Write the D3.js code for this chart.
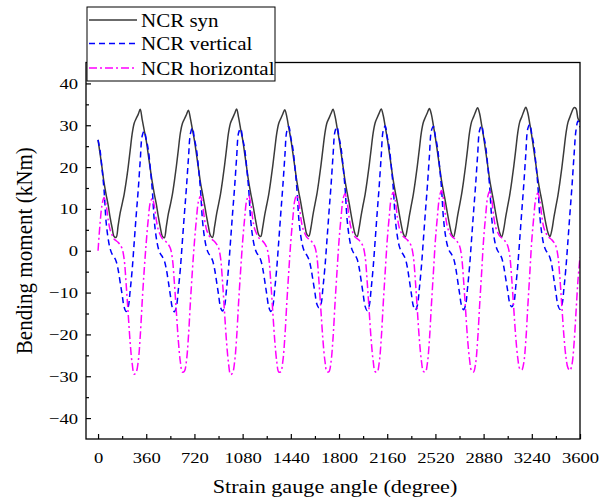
<!DOCTYPE html>
<html lang="en">
<head>
<meta charset="UTF-8">
<title>Bending moment vs strain gauge angle</title>
<script src="https://d3js.org/d3.v7.min.js"></script>
<style>
  body { margin: 0; background: #fff; }
  svg text { font-family: "Liberation Serif", "Times New Roman", serif; fill: #000; }
</style>
</head>
<body>
<svg id="chart" width="612" height="502"></svg>
<script>
// sampling step of the curves (degrees)
var step = 15;

// NCR syn, one row per revolution (0..345 deg), plus closing value at 3600
var synVals = [
  26.5, 23.2, 19.8, 16.2, 13.5, 11, 8, 5.5, 3.4, 3.2, 6, 9, 11.2, 13.5, 16.5, 20, 24, 28, 30.5, 31.6, 32.6, 33.8, 31.3, 28.8,
  26.3, 23, 19.6, 16.4, 13.6, 11.2, 8.2, 5.6, 3.5, 3.1, 5.8, 8.8, 11, 13.4, 16.6, 20.2, 24.2, 28.2, 30.4, 31.5, 32.5, 33.6, 31.6, 29,
  26.4, 23.1, 19.7, 16.3, 13.7, 11.1, 8.3, 5.7, 3.6, 3.2, 5.7, 8.7, 11.1, 13.6, 16.8, 20.4, 24.4, 28.3, 30.6, 31.7, 32.8, 33.9, 31.8, 29.1,
  26.6, 23.3, 19.9, 16.5, 13.8, 11.3, 8.5, 5.9, 3.8, 3.4, 5.6, 8.6, 11, 13.5, 16.7, 20.3, 24.3, 28.1, 30.5, 31.6, 32.7, 33.7, 32, 29.3,
  26.7, 23.4, 20, 16.6, 13.9, 11.4, 8.6, 6, 3.9, 3.5, 5.5, 8.5, 11.1, 13.6, 16.8, 20.4, 24.4, 28.2, 30.6, 31.7, 32.8, 33.8, 32.2, 29.5,
  26.8, 23.5, 20.1, 16.7, 14, 11.5, 8.7, 6.1, 4, 3.4, 5.4, 8.4, 11, 13.5, 16.7, 20.3, 24.3, 28.2, 30.6, 31.8, 32.9, 33.9, 32.4, 29.7,
  26.9, 23.6, 20.2, 16.8, 14.1, 11.6, 8.8, 6.2, 4.1, 3.3, 5.3, 8.3, 10.9, 13.5, 16.7, 20.3, 24.3, 28.3, 30.7, 31.9, 33, 34, 32.6, 29.9,
  27, 23.7, 20.3, 16.9, 14.2, 11.7, 8.9, 6.3, 4.2, 3.2, 5.2, 8.2, 10.8, 13.4, 16.6, 20.2, 24.2, 28.3, 30.8, 32, 33.2, 34.2, 32.8, 30.1,
  27.2, 23.9, 20.5, 17, 14.3, 11.8, 9, 6.4, 4.3, 3.3, 5.1, 8.1, 10.7, 13.3, 16.5, 20.1, 24.1, 28.2, 30.8, 32, 33.3, 34.3, 33, 30.3,
  27.4, 24.1, 20.7, 17.2, 14.4, 11.9, 9.1, 6.5, 4.4, 3.4, 5, 8, 10.6, 13.2, 16.4, 20, 24, 28, 30.7, 32, 33.3, 34.2, 34, 31.6,
  30.8
];

// NCR vertical
var vertVals = [
  26.5, 24, 19.5, 14.5, 7, 3, 0.5, -0.8, -1.5, -2.5, -4.5, -7.5, -10.5, -13.5, -14.5, -13.5, -9.5, -4.5, 2, 8.5, 14.5, 21.5, 27.5, 28.6,
  26.6, 24.2, 19.8, 14.6, 7.2, 3.1, 0.6, -0.7, -1.4, -2.4, -4.4, -7.4, -10.6, -13.6, -14.6, -13.4, -9.2, -4.2, 2.3, 8.8, 15, 22, 28, 29.4,
  26.7, 24.3, 19.9, 14.7, 7.3, 3.2, 0.7, -0.6, -1.3, -2.3, -4.3, -7.3, -10.5, -13.5, -14.4, -13.2, -9, -4, 2.5, 9, 15.2, 22.2, 28.2, 29.2,
  26.8, 24.4, 20, 14.8, 7.4, 3.3, 0.8, -0.5, -1.2, -2.2, -4.2, -7.2, -10.4, -13.4, -14.5, -13.3, -9.1, -4.1, 2.4, 9, 15.3, 22.4, 28.6, 29.7,
  27, 24.5, 20.1, 14.9, 7.5, 3.4, 0.9, -0.4, -1.1, -2.1, -4.1, -7, -10, -12.8, -13.6, -12.8, -8.8, -3.8, 2.6, 9.2, 15.5, 22.6, 28.5, 29.6,
  27.1, 24.6, 20.2, 15, 7.6, 3.5, 1, -0.3, -1, -2, -4, -7.1, -10.3, -13.3, -14.3, -13.2, -9.1, -4, 2.5, 9.1, 15.4, 22.5, 28.7, 29.8,
  27.2, 24.7, 20.3, 15.1, 7.7, 3.6, 1.1, -0.2, -0.9, -1.9, -3.9, -7, -10.2, -13.2, -14.2, -13.1, -9, -3.9, 2.6, 9.2, 15.5, 22.6, 28.7, 29.7,
  27.3, 24.8, 20.4, 15.2, 7.8, 3.7, 1.2, -0.1, -0.8, -1.8, -3.8, -6.9, -10.1, -13.1, -14.1, -13, -8.9, -3.8, 2.7, 9.3, 15.6, 22.7, 28.8, 29.9,
  27.5, 25, 20.6, 15.4, 8, 3.8, 1.3, 0, -0.7, -1.7, -3.7, -6.6, -9.6, -12.5, -13.4, -12.6, -8.6, -3.6, 2.8, 9.4, 15.8, 23, 29.2, 30.2,
  27.8, 25.3, 20.9, 15.7, 8.3, 4, 1.4, 0.1, -0.6, -1.6, -3.6, -6.8, -10, -13, -14, -13, -9, -4, 2.4, 9, 15.4, 22.6, 28.8, 31,
  29.5
];

// NCR horizontal
var horizVals = [
  0, 6.5, 11, 12.7, 11, 7.5, 5, 3.8, 2.8, 2.4, 2, 1.4, 0.5, -2, -8, -15, -22, -27, -29.5, -29, -26.5, -20.5, -12, -4.5,
  2, 7.5, 11.5, 12.5, 10.8, 7.4, 5, 3.8, 2.9, 2.5, 2.1, 1.5, 0.6, -1.8, -7.6, -14.6, -21.6, -26.6, -29, -28.8, -26.4, -20.6, -12.2, -4.6,
  2.1, 7.6, 11.8, 13, 11.2, 7.6, 5.1, 3.9, 3, 2.6, 2.2, 1.6, 0.7, -1.7, -7.5, -14.8, -21.9, -27, -29.6, -29.2, -26.6, -20.8, -12.3, -4.7,
  2.2, 7.7, 12, 13.2, 11.4, 7.7, 5.2, 4, 3.1, 2.7, 2.3, 1.7, 0.8, -1.6, -7.4, -14.5, -21.5, -26.5, -29, -28.9, -26.5, -20.8, -12.4, -4.8,
  2.3, 7.8, 12.1, 13.3, 11.5, 7.8, 5.3, 4.1, 3.2, 2.8, 2.4, 1.8, 0.9, -1.5, -7.3, -14.4, -21.4, -26.4, -28.9, -28.9, -26.6, -21, -12.6, -4.9,
  2.4, 7.9, 12.3, 13.6, 11.8, 8, 5.4, 4.2, 3.3, 2.9, 2.5, 1.9, 1, -1.4, -7.2, -14.3, -21.3, -26.3, -28.9, -29, -26.8, -21.2, -12.8, -5,
  2.5, 8.1, 12.6, 14, 12.1, 8.2, 5.5, 4.3, 3.4, 3, 2.6, 2, 1.1, -1.3, -7, -14.2, -21.2, -26.2, -28.8, -29, -26.9, -21.4, -13, -5.2,
  2.6, 8.2, 12.8, 14.4, 12.4, 8.4, 5.6, 4.4, 3.5, 3.1, 2.7, 2.1, 1.2, -1.2, -6.9, -14, -21, -26, -28.7, -29, -27, -21.6, -13.2, -5.3,
  2.7, 8.3, 12.8, 14.2, 12.3, 8.3, 5.6, 4.4, 3.5, 3.1, 2.7, 2.1, 1.2, -1.1, -6.7, -13.7, -20.6, -25.6, -28.2, -28.5, -26.8, -21.6, -13.4, -5.4,
  2.6, 8.1, 12.5, 13.8, 12, 8.2, 5.5, 4.3, 3.4, 3, 2.6, 2, 1.1, -1.2, -6.6, -13.6, -20.4, -25.4, -28, -28.6, -27.2, -22.4, -14.8, -7,
  -1.5
];

var xTicks = [0, 360, 720, 1080, 1440, 1800, 2160, 2520, 2880, 3240, 3600];
var yTicks = [-40, -30, -20, -10, 0, 10, 20, 30, 40];

var seriesNames = ['NCR syn', 'NCR vertical', 'NCR horizontal'];
var seriesColors = ['#3a3a3a', '#0000ff', '#ff00ff'];
var seriesDash = [null, '6,4', '8,3,2,3'];

var stretch = 1.2; // text in the figure is drawn a bit wider than tall

var svg = d3.select('#chart');
var plotL = 86, plotR = 580, plotT = 62.5, plotB = 439;

var x = d3.scaleLinear().domain([-90, 3600]).range([plotL, plotR]);
var y = d3.scaleLinear().domain([-45, 45]).range([plotB, plotT]);

svg.append('defs').append('clipPath').attr('id', 'plotclip')
  .append('rect')
  .attr('x', plotL).attr('y', plotT)
  .attr('width', plotR - plotL).attr('height', plotB - plotT);

// curves
var allVals = [synVals, vertVals, horizVals];
var line = d3.line()
  .x(d => x(d[0]))
  .y(d => y(d[1]))
  .curve(d3.curveCatmullRom.alpha(0.5));

var plot = svg.append('g').attr('clip-path', 'url(#plotclip)');
allVals.forEach((vals, i) => {
  var pts = vals.map((v, k) => [k * step, v]);
  plot.append('path')
    .datum(pts)
    .attr('d', line)
    .attr('fill', 'none')
    .attr('stroke', seriesColors[i])
    .attr('stroke-width', 1.5)
    .attr('stroke-dasharray', seriesDash[i]);
});

// frame
svg.append('rect')
  .attr('x', plotL).attr('y', plotT)
  .attr('width', plotR - plotL).attr('height', plotB - plotT)
  .attr('fill', 'none').attr('stroke', '#000').attr('stroke-width', 1.3);

// minor ticks
var xMinor = xTicks.slice(0, -1).map(d => d + 180);
var yMinor = yTicks.slice(0, -1).map(d => d + 5);

var xAxisG = svg.append('g').attr('transform', `translate(0,${plotB})`);
xAxisG.append('g').call(d3.axisBottom(x).tickValues(xMinor).tickSize(-3).tickFormat(''));
xAxisG.append('g').attr('class', 'major').call(d3.axisBottom(x).tickValues(xTicks).tickSize(-5).tickPadding(13).tickFormat(d3.format('d')));

var yAxisG = svg.append('g').attr('transform', `translate(${plotL},0)`);
yAxisG.append('g').call(d3.axisLeft(y).tickValues(yMinor).tickSize(-3).tickFormat(''));
yAxisG.append('g').attr('class', 'major').call(d3.axisLeft(y).tickValues(yTicks).tickSize(-5).tickPadding(8).tickFormat(d3.format('d')));

svg.selectAll('.domain').remove();
svg.selectAll('.tick line').attr('stroke', '#000').attr('stroke-width', 1.2);

xAxisG.selectAll('.major text')
  .attr('font-size', 15.5).attr('font-family', '"Liberation Serif", serif').attr('fill', '#000')
  .attr('transform', `scale(${stretch},1)`);
yAxisG.selectAll('.major text')
  .attr('font-size', 15.5).attr('font-family', '"Liberation Serif", serif').attr('fill', '#000')
  .attr('x', -8 / stretch)
  .attr('transform', `scale(${stretch},1)`);

// axis titles
svg.append('text')
  .attr('transform', `translate(${(plotL + plotR) / 2 + 2},493) scale(${stretch},1)`)
  .attr('text-anchor', 'middle')
  .attr('font-size', 18.5)
  .text('Strain gauge angle (degree)');

svg.append('text')
  .attr('transform', `translate(32,${(plotT + plotB) / 2}) rotate(-90) scale(1.08,1.15)`)
  .attr('text-anchor', 'middle')
  .attr('font-size', 19.5)
  .text('Bending moment (kNm)');

// legend
var lg = svg.append('g');
lg.append('rect')
  .attr('x', 87).attr('y', 7)
  .attr('width', 188).attr('height', 74)
  .attr('fill', '#fff').attr('stroke', '#000').attr('stroke-width', 1);

var legendY = [20, 43.5, 68];
seriesNames.forEach((name, i) => {
  lg.append('line')
    .attr('x1', 89).attr('x2', 137)
    .attr('y1', legendY[i]).attr('y2', legendY[i])
    .attr('stroke', seriesColors[i])
    .attr('stroke-width', 1.5)
    .attr('stroke-dasharray', seriesDash[i]);
  lg.append('text')
    .attr('transform', `translate(141,${legendY[i] + 6.5}) scale(1.18,1)`)
    .attr('font-size', 17.8)
    .text(name);
});
</script>
</body>
</html>
